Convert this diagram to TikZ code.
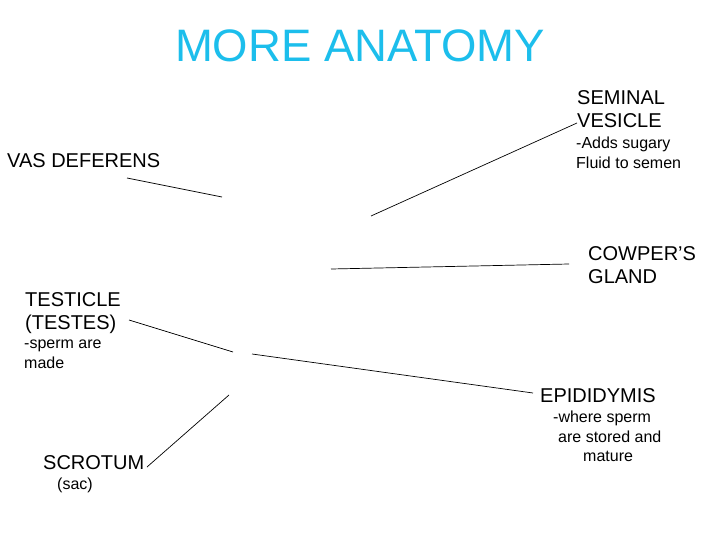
\documentclass[tikz,border=0pt]{standalone}
\usepackage{fontspec}
\setmainfont{Liberation Sans}
\definecolor{titlecyan}{RGB}{28,190,236}
\begin{document}
\begin{tikzpicture}[x=1pt,y=-1pt,
  big/.style={anchor=north west,inner sep=0pt,align=left,font=\fontsize{20}{23}\selectfont},
  small/.style={anchor=north west,inner sep=0pt,align=left,font=\fontsize{16}{19.5}\selectfont},
  lead/.style={draw=black,line width=0.7pt}]
\useasboundingbox (0,0) rectangle (720,540);
\fill[white] (0,0) rectangle (720,540);
\node[inner sep=0pt,anchor=base,text=titlecyan,font=\fontsize{45.5}{50}\selectfont] (title) at (360,62) {MORE ANATOMY};
% labels
\node[big] (sv) at (577,90) {SEMINAL\\VESICLE};
\node[small] (svn) at (576,137) {-Adds sugary\\Fluid to semen};
\node[big] (vas) at (7,153) {VAS DEFERENS};
\node[big] (cow) at (588,246) {COWPER'S\\GLAND};
\node[big] (tes) at (25,292) {TESTICLE\\(TESTES)};
\node[small] (tesn) at (24,340) {-sperm are\\made};
\node[big] (epi) at (540,388) {EPIDIDYMIS};
\node[small] (epin) at (553,411) {-where sperm\\\hspace*{5pt}are stored and\\\hspace*{30pt}mature};
\node[big] (scr) at (43,455) {SCROTUM};
\node[small] (sac) at (57,478) {(sac)};
% connector ends
\coordinate (vasA) at (127,178);  \coordinate (vasB) at (222,197);
\coordinate (svA) at (577,123);   \coordinate (svB) at (371,216);
\coordinate (cowA) at (569,264);  \coordinate (cowB) at (331,269);
\coordinate (tesA) at (129,320);  \coordinate (tesB) at (233,352);
\coordinate (epiA) at (533,393);  \coordinate (epiB) at (252,354);
\coordinate (scrA) at (147,467);  \coordinate (scrB) at (229,395);
\draw[lead] (vasA) -- (vasB);
\draw[lead] (svA) -- (svB);
\draw[lead] (cowA) -- (cowB);
\draw[lead] (tesA) -- (tesB);
\draw[lead] (epiA) -- (epiB);
\draw[lead] (scrA) -- (scrB);
\end{tikzpicture}
\end{document}
